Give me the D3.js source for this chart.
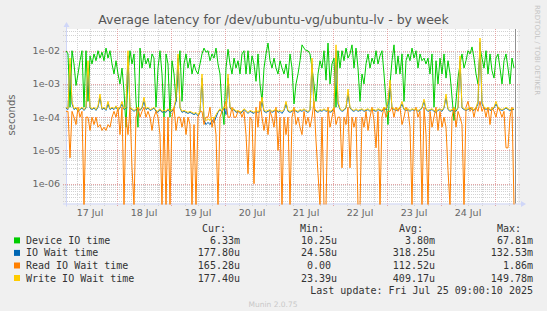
<!DOCTYPE html>
<html lang="en">
<head>
<meta charset="UTF-8" />
<title>Average latency for /dev/ubuntu-vg/ubuntu-lv - by week</title>
<script src="https://d3js.org/d3.v7.min.js"></script>
<style>
  body { margin: 0; background: #f0f0f0; }
  svg { display: block; }
  .tick-label { font-family: "DejaVu Sans", sans-serif; font-size: 9.5px; fill: #666; }
  .legend text { font-family: "DejaVu Sans Mono", monospace; font-size: 10px; fill: #333; }
</style>
</head>
<body>
<svg id="chart" width="547" height="311"></svg>
<script>
// values, one sample every 3200 s starting 17 Jul 01:20 UTC
const deviceIO = [
  1e-2, 8e-3, 2e-4, 1e-2, 4e-3, 9e-4, 2e-3, 5e-3, 1e-2, 2e-4, 1e-2, 3e-4, 7e-3, 4e-3, 8e-3,
  5e-3, 1e-2, 6e-3, 9e-3, 5e-3, 1.2e-2, 6e-3, 1e-2, 4e-3, 2e-3, 5e-3, 2e-3, 1e-3, 3e-3, 6e-4,
  5e-5, 2e-3, 1e-2, 4e-3, 8e-3, 3e-4, 5e-5, 1.2e-2, 3e-3, 8e-3, 4e-3, 6e-3, 3e-3, 8e-3, 6e-3,
  2e-4, 3e-3, 1e-2, 2e-3, 1e-4, 8e-3, 4e-3, 1e-4, 5e-3, 2e-3, 3e-4, 2e-3, 1e-2, 3e-4, 4e-3,
  8e-3, 3e-3, 6e-3, 2e-3, 4e-3, 2.5e-3, 2e-3, 4e-3, 8e-3, 1.2e-2, 9e-3, 1e-2, 5e-3, 8e-3, 6e-3,
  1.2e-2, 4e-3, 2e-3, 2e-4, 6e-5, 3e-3, 1.1e-2, 4e-3, 2e-3, 6e-3, 3e-3, 5e-3, 2e-3, 8e-3, 1e-2,
  2e-3, 1e-2, 2e-3, 7e-3, 4e-3, 1.2e-3, 8e-3, 1e-3, 3e-4, 3e-3, 8e-3, 1.7e-2, 5e-3, 3e-3, 6e-3,
  3e-3, 2e-3, 5e-3, 3e-3, 2e-3, 4e-3, 1.5e-3, 8e-3, 3e-3, 2.5e-4, 1e-3, 2e-3, 5e-3, 1.5e-2, 1.2e-2,
  1e-2, 1e-2, 8e-3, 3e-3, 1e-3, 3e-4, 2e-3, 5e-3, 3e-3, 1e-2, 1.3e-3, 1.7e-2, 1e-3, 4e-3, 6e-3,
  2e-4, 1e-2, 3e-3, 1e-2, 5e-3, 1.2e-2, 6e-3, 8e-3, 1.5e-2, 3e-3, 1.2e-2, 3e-3, 3e-4, 2e-3, 1e-3,
  4e-3, 8e-3, 3e-3, 6e-3, 4e-3, 1e-2, 4e-3, 7e-3, 1e-2, 2e-3, 3e-4, 6e-5, 1e-3, 5e-3, 1.5e-2,
  2e-3, 7e-3, 2e-3, 8e-3, 3e-4, 5e-3, 8e-3, 5e-3, 1.2e-2, 6e-3, 1e-2, 3e-3, 8e-3, 5e-3, 6e-3,
  4e-3, 6e-3, 2e-3, 8e-3, 2e-4, 5e-3, 1e-3, 6e-3, 2e-3, 8e-3, 1.5e-3, 5e-3, 2e-3, 4e-4, 8e-5,
  3e-4, 1.5e-3, 4e-3, 8e-3, 3e-3, 5e-3, 1e-2, 8e-3, 1.3e-2, 6e-3, 2e-3, 1e-3, 1.2e-2, 6e-3, 3e-3,
  1e-2, 2e-3, 8e-3, 2.5e-3, 1.5e-3, 6e-3, 8e-3, 3e-3, 1e-3, 5e-3, 8e-3, 3e-3, 1e-3, 6e-3, 3e-3
];
const ioWait = [
  1.9e-4, 1.7e-4, 4e-3, 2.5e-4, 1.7e-4, 1.9e-4, 1.5e-4, 1.7e-4, 1.9e-4, 1.6e-4, 1.9e-4, 3e-3, 1.9e-4, 1.7e-4, 1.9e-4,
  1.6e-4, 2e-4, 4e-4, 1.7e-4, 1.9e-4, 1.6e-4, 2.5e-4, 1.7e-4, 1.9e-4, 1.7e-4, 2e-4, 1.6e-4, 1.9e-4, 2.5e-4, 1.7e-4,
  1.9e-4, 7e-3, 1.9e-4, 1.7e-4, 1.5e-4, 1.7e-4, 1.9e-4, 1.6e-4, 1.9e-4, 3e-4, 1.7e-4, 1.9e-4, 1.6e-4, 1.7e-4, 1.9e-4,
  1.5e-4, 1.4e-4, 1.7e-4, 1.4e-4, 1.5e-4, 1.4e-4, 1.7e-4, 1.4e-4, 1.5e-4, 1.9e-4, 3e-4, 6e-3, 1.9e-4, 1.4e-4, 1.5e-4,
  1.4e-4, 1.3e-4, 1.4e-4, 1.3e-4, 1.2e-4, 1.3e-4, 1.1e-4, 1.4e-4, 1.5e-3, 8e-5, 6e-5, 7e-5, 6e-5, 8e-5, 7e-5,
  1e-4, 1.4e-4, 1.7e-4, 1.4e-4, 1.9e-4, 1.2e-4, 1.5e-3, 1.9e-4, 1.6e-4, 1.7e-4, 1.4e-4, 1.5e-4, 1.3e-4, 1.4e-4, 1.7e-4,
  1.5e-4, 1.3e-4, 1.5e-4, 1.4e-4, 1.3e-4, 1.5e-4, 1.4e-4, 1.5e-4, 3e-4, 1.5e-4, 1.4e-4, 1.5e-4, 1.6e-4, 1.4e-4, 1.5e-4,
  1.7e-4, 1.4e-4, 1.5e-4, 1.3e-4, 1.6e-4, 2.5e-4, 1.5e-4, 1.4e-4, 1.5e-4, 1.7e-4, 1.5e-4, 1.4e-4, 1.6e-4, 1.5e-4, 1.7e-4,
  1.5e-4, 1.4e-4, 1.6e-4, 4e-3, 1.9e-4, 1.5e-4, 1.4e-4, 1.6e-4, 1.5e-4, 1.7e-4, 1.5e-4, 1.6e-4, 1.4e-4, 1.5e-4, 1.9e-4,
  1e-2, 2.5e-4, 1.7e-4, 1.5e-4, 1.6e-4, 1.9e-4, 5e-4, 1.9e-4, 1.6e-4, 1.5e-4, 1.7e-4, 1.5e-4, 1.6e-4, 1.7e-4, 1.5e-4,
  1.6e-4, 1.7e-4, 1.5e-4, 1.7e-4, 1.6e-4, 1.5e-4, 1.7e-4, 1.6e-4, 1.5e-4, 1.9e-4, 1.7e-4, 2.5e-4, 1e-3, 1.9e-4, 1.7e-4,
  1.6e-4, 1.7e-4, 1.9e-4, 2.5e-4, 1.7e-4, 1.6e-4, 1.7e-4, 1.5e-4, 1.7e-4, 1.6e-4, 1.7e-4, 1.5e-4, 1.6e-4, 1.9e-4, 3e-4,
  1.7e-4, 1.5e-4, 1.6e-4, 1.7e-4, 1.5e-4, 1.4e-4, 1.6e-4, 1.7e-4, 1.5e-4, 1.9e-4, 4e-4, 1.7e-4, 1.5e-4, 1.6e-4, 1.7e-4,
  1.5e-4, 1.9e-4, 5e-3, 1.9e-4, 1.7e-4, 1.6e-4, 1.7e-4, 1.9e-4, 1.7e-4, 1.6e-4, 1.9e-4, 2.5e-4, 1.8e-2, 2.5e-4, 1.9e-4,
  1.7e-4, 1.9e-4, 1.6e-4, 1.7e-4, 1.9e-4, 2.5e-4, 1.9e-4, 1.7e-4, 1.6e-4, 1.7e-4, 1.9e-4, 1.7e-4, 1.6e-4, 1.7e-4, 1.7e-4
];
const readWait = [
  1.5e-4, 1.5e-4, 6e-6, 1.5e-4, 1e-4, 6e-5, 2e-4, 1e-4, 1.5e-4, 0, 1e-4, 1e-4, 4e-5, 1e-4, 6e-5,
  1e-4, 5e-5, 6e-5, 4e-5, 5e-5, 4e-5, 6e-5, 5e-5, 1e-4, 1.5e-4, 1e-4, 2e-4, 3e-5, 2e-4, 0,
  1e-4, 3e-5, 2e-4, 3e-6, 0, 1e-4, 2e-4, 1e-4, 1.5e-4, 2e-4, 1e-4, 1.5e-4, 1e-4, 4e-5, 1e-4,
  1.5e-4, 1e-4, 3e-5, 0, 1e-4, 0, 1e-4, 0, 1e-4, 2e-4, 4e-5, 1e-4, 1e-4, 5e-5, 1e-4,
  3e-5, 1e-4, 6e-5, 0, 6e-5, 0, 1e-4, 1.5e-4, 1.5e-4, 6e-5, 1e-4, 1e-4, 2e-4, 5e-5, 1e-4,
  3e-5, 0, 1e-4, 1.5e-4, 2e-4, 3e-4, 1e-4, 1e-4, 2e-4, 1e-4, 1e-4, 1.5e-4, 1.5e-4, 1e-4, 1.5e-4,
  3e-5, 2e-6, 1e-4, 8e-5, 1e-6, 2e-4, 5e-5, 3e-4, 1e-4, 4e-5, 1e-4, 3e-5, 1.5e-4, 1e-4, 5e-5,
  2e-4, 1e-5, 1e-4, 0, 1e-4, 3e-5, 1e-4, 0, 1e-4, 2e-4, 6e-5, 1e-4, 5e-5, 3e-5, 1.5e-4,
  6e-5, 1e-4, 5e-5, 1e-4, 3e-4, 2e-5, 2e-6, 0, 1e-4, 0, 0, 2e-4, 5e-5, 1e-4, 2e-4,
  6e-5, 1e-4, 1e-4, 3e-6, 1e-4, 6e-5, 2e-4, 3e-6, 1e-4, 5e-5, 1e-4, 0, 0, 1e-4, 5e-5,
  1.5e-4, 4e-5, 1e-4, 2e-4, 8e-5, 1.2e-5, 1.5e-4, 0, 1e-4, 2e-4, 1e-4, 1.5e-4, 1.5e-4, 2e-4, 1e-4,
  2e-4, 1.5e-4, 2e-4, 6e-5, 1e-4, 2e-4, 1.5e-4, 5e-5, 0, 1.5e-4, 2e-4, 1e-4, 1.5e-4, 0, 2e-4,
  3e-5, 0, 1.5e-4, 5e-5, 1e-4, 2e-4, 4e-5, 1.5e-4, 5e-5, 1e-4, 5e-5, 2.5e-6, 0, 1e-4, 2e-4,
  5e-5, 1.5e-4, 1e-4, 6e-5, 0, 2e-4, 3e-4, 1.5e-4, 2e-4, 1e-4, 2e-4, 1.5e-4, 3e-4, 1.5e-4, 2e-4,
  1e-4, 2e-4, 6e-5, 2e-4, 1.5e-4, 1e-4, 2e-4, 1.5e-4, 1e-4, 1.5e-4, 1.2e-5, 1.2e-5, 1e-4, 2e-4, 0
];
const writeWait = [
  2e-4, 1.8e-4, 6e-3, 3e-4, 1.8e-4, 2e-4, 1.6e-4, 1.8e-4, 2e-4, 1.7e-4, 2e-4, 5e-3, 2e-4, 1.8e-4, 2e-4,
  1.7e-4, 2.2e-4, 5e-4, 1.8e-4, 2e-4, 1.7e-4, 3e-4, 1.8e-4, 2e-4, 1.8e-4, 2.2e-4, 1.7e-4, 2e-4, 3e-4, 1.8e-4,
  2e-4, 1e-2, 2e-4, 1.8e-4, 1.6e-4, 1.8e-4, 2e-4, 1.7e-4, 2e-4, 4e-4, 1.8e-4, 2e-4, 1.7e-4, 1.8e-4, 2e-4,
  1.6e-4, 1.5e-4, 1.8e-4, 1.5e-4, 1.6e-4, 1.5e-4, 1.8e-4, 1.5e-4, 1.6e-4, 2e-4, 4e-4, 8e-3, 2e-4, 1.5e-4, 1.6e-4,
  1.5e-4, 1.4e-4, 1.5e-4, 1.4e-4, 1.3e-4, 1.4e-4, 1.2e-4, 1.5e-4, 2e-3, 1e-4, 8e-5, 9e-5, 8e-5, 1e-4, 9e-5,
  1.2e-4, 1.5e-4, 1.8e-4, 1.5e-4, 2e-4, 1.8e-4, 2e-3, 2e-4, 1.7e-4, 1.8e-4, 1.5e-4, 1.6e-4, 1.4e-4, 1.5e-4, 1.8e-4,
  1.6e-4, 1.4e-4, 1.6e-4, 1.5e-4, 1.4e-4, 1.6e-4, 1.5e-4, 1.6e-4, 4e-4, 1.6e-4, 1.5e-4, 1.6e-4, 1.7e-4, 1.5e-4, 1.6e-4,
  1.8e-4, 1.5e-4, 1.6e-4, 1.5e-4, 1.7e-4, 3e-4, 1.6e-4, 1.5e-4, 1.6e-4, 1.8e-4, 1.6e-4, 1.5e-4, 1.7e-4, 1.6e-4, 1.8e-4,
  1.6e-4, 1.5e-4, 1.7e-4, 6e-3, 2e-4, 1.6e-4, 1.5e-4, 1.7e-4, 1.6e-4, 1.8e-4, 1.6e-4, 1.7e-4, 1.5e-4, 1.6e-4, 2e-4,
  1.5e-2, 3e-4, 1.8e-4, 1.6e-4, 1.7e-4, 2e-4, 7e-4, 2e-4, 1.7e-4, 1.6e-4, 1.8e-4, 1.6e-4, 1.7e-4, 1.8e-4, 1.6e-4,
  1.7e-4, 1.8e-4, 1.6e-4, 1.8e-4, 1.7e-4, 1.6e-4, 1.8e-4, 1.7e-4, 1.6e-4, 2e-4, 1.8e-4, 3e-4, 1.3e-3, 2e-4, 1.8e-4,
  1.7e-4, 1.8e-4, 2e-4, 3e-4, 1.8e-4, 1.7e-4, 1.8e-4, 1.6e-4, 1.8e-4, 1.7e-4, 1.8e-4, 1.6e-4, 1.7e-4, 2e-4, 3.5e-4,
  1.8e-4, 1.6e-4, 1.7e-4, 1.8e-4, 1.6e-4, 1.5e-4, 1.7e-4, 1.8e-4, 1.6e-4, 2e-4, 5e-4, 1.8e-4, 1.6e-4, 1.7e-4, 1.8e-4,
  1.6e-4, 2e-4, 7e-3, 2e-4, 1.8e-4, 1.7e-4, 1.8e-4, 2e-4, 1.8e-4, 1.7e-4, 2e-4, 3e-4, 2.4e-2, 3e-4, 2e-4,
  1.8e-4, 2e-4, 1.7e-4, 1.8e-4, 2e-4, 3e-4, 2e-4, 1.8e-4, 1.7e-4, 1.8e-4, 2e-4, 1.8e-4, 1.7e-4, 1.8e-4, 1.8e-4
];

const seriesNames = ["Device IO time", "IO Wait time", "Read IO Wait time", "Write IO Wait time"];
const seriesColors = ["#00cc00", "#0066b3", "#ff8000", "#ffcc00"];
const curValues = ["6.33m", "177.80u", "165.28u", "177.40u"];
const minValues = ["10.25u", "24.58u", "0.00 ", "23.39u"];
const avgValues = ["3.80m", "318.25u", "112.52u", "409.17u"];
const maxValues = ["67.81m", "132.53m", "1.86m", "149.78m"];
const yTickValues = [1e-2, 1e-3, 1e-4, 1e-5, 1e-6];
const yTickLabels = ["1e-02", "1e-03", "1e-04", "1e-05", "1e-06"];
const dayLabels = ["17 Jul", "18 Jul", "19 Jul", "20 Jul", "21 Jul", "22 Jul", "23 Jul", "24 Jul"];

const svg = d3.select("#chart");
const plotLeft = 66, plotRight = 518, plotTop = 29, plotBottom = 203.5;

const startTime = Date.UTC(2025, 6, 17, 1, 20);
const step = 3200 * 1000;
const times = deviceIO.map((d, i) => new Date(startTime + i * step));

const x = d3.scaleUtc()
  .domain([new Date(Date.UTC(2025, 6, 17)), new Date(Date.UTC(2025, 6, 25))])
  .range([63, 495]);
const y = d3.scaleLog()
  .domain([Math.pow(10, -6.595), Math.pow(10, -1.347)])
  .range([plotBottom, plotTop]);

svg.append("rect").attr("width", 547).attr("height", 311).attr("fill", "#f0f0f0");
svg.append("rect").attr("x", plotLeft).attr("y", plotTop)
  .attr("width", plotRight - plotLeft).attr("height", plotBottom - plotTop).attr("fill", "#fff");

// grid
const grid = svg.append("g");
for (let e = -7; e <= -2; e++) {
  for (let m = 1; m <= 9; m++) {
    const v = m * Math.pow(10, e);
    const yy = y(v);
    if (yy < plotTop - 0.5 || yy > plotBottom) continue;
    const py = Math.round(yy) + 0.5;
    grid.append("line")
      .attr("x1", plotLeft - 3).attr("x2", plotRight + 2)
      .attr("y1", py).attr("y2", py)
      .attr("stroke", m === 1 ? "#e3a4a4" : "#d2d2d2")
      .attr("stroke-dasharray", "1,1");
  }
}
const sixHours = d3.utcHour.every(6).range(new Date(Date.UTC(2025, 6, 17, 1)), new Date(Date.UTC(2025, 6, 25, 10)));
sixHours.forEach((t) => {
  const px = Math.round(x(t)) + 0.5;
  if (px < plotLeft || px > plotRight) return;
  const major = t.getUTCHours() === 0;
  grid.append("line")
    .attr("x1", px).attr("x2", px)
    .attr("y1", plotTop).attr("y2", plotBottom + 3)
    .attr("stroke", major ? "#e3a4a4" : "#d2d2d2")
    .attr("stroke-dasharray", "1,1");
});

// axes
const axisColor = "#cfd6f8";
svg.append("line").attr("x1", plotLeft - 3).attr("x2", plotRight + 3)
  .attr("y1", plotBottom + 0.5).attr("y2", plotBottom + 0.5).attr("stroke", axisColor);
svg.append("path").attr("d", `M${plotRight + 3},${plotBottom - 2.5}L${plotRight + 8},${plotBottom + 0.5}L${plotRight + 3},${plotBottom + 3.5}Z`)
  .attr("fill", axisColor);
svg.append("line").attr("x1", plotLeft + 0.5).attr("x2", plotLeft + 0.5)
  .attr("y1", plotBottom + 3).attr("y2", plotTop - 3).attr("stroke", axisColor);
svg.append("path").attr("d", `M${plotLeft - 2.5},${plotTop - 2}L${plotLeft + 0.5},${plotTop - 7}L${plotLeft + 3.5},${plotTop - 2}Z`)
  .attr("fill", axisColor);

svg.selectAll(".ylab").data(yTickValues).enter().append("text")
  .attr("class", "tick-label")
  .attr("x", 60).attr("y", (d) => y(d) + 3.5)
  .attr("text-anchor", "end")
  .text((d, i) => yTickLabels[i]);

svg.selectAll(".xlab").data(dayLabels).enter().append("text")
  .attr("class", "tick-label")
  .attr("x", (d, i) => x(new Date(Date.UTC(2025, 6, 17 + i, 12))))
  .attr("y", 216)
  .attr("text-anchor", "middle")
  .text((d) => d);

svg.append("text")
  .attr("transform", "translate(15,115) rotate(-90)")
  .attr("text-anchor", "middle")
  .style("font-family", "DejaVu Sans, sans-serif").style("font-size", "10px").style("fill", "#666")
  .text("seconds");

svg.append("text")
  .attr("x", 273.5).attr("y", 24)
  .attr("text-anchor", "middle")
  .style("font-family", "DejaVu Sans, sans-serif").style("font-size", "12.5px").style("fill", "#555")
  .text("Average latency for /dev/ubuntu-vg/ubuntu-lv - by week");

svg.append("text")
  .attr("transform", "translate(535,5) rotate(90)")
  .style("font-family", "DejaVu Sans, sans-serif").style("font-size", "7px").style("fill", "#c4c4c4")
  .text("RRDTOOL / TOBI OETIKER");

// lines
svg.append("clipPath").attr("id", "plotClip").append("rect")
  .attr("x", plotLeft).attr("y", plotTop).attr("width", plotRight - plotLeft).attr("height", plotBottom - plotTop + 1);

const line = d3.line()
  .x((d, i) => x(times[i]))
  .y((d) => (d > 0 ? y(d) : plotBottom + 2));

const plot = svg.append("g").attr("clip-path", "url(#plotClip)");
[deviceIO, ioWait, readWait, writeWait].forEach((s, k) => {
  plot.append("path")
    .datum(s)
    .attr("fill", "none")
    .attr("stroke", seriesColors[k])
    .attr("stroke-width", 1)
    .attr("d", line);
});

svg.append("line").attr("x1", 515.5).attr("x2", 515.5)
  .attr("y1", plotTop).attr("y2", plotBottom).attr("stroke", "#909090");

// legend
const legend = svg.append("g").attr("class", "legend");
const headers = [["Cur:", 202], ["Min:", 300], ["Avg:", 399], ["Max:", 497]];
headers.forEach(([t, hx]) => legend.append("text").attr("x", hx).attr("y", 232).text(t));

const rowY = [240.4, 252.9, 265.5, 278];
seriesNames.forEach((name, i) => {
  legend.append("rect")
    .attr("x", 14).attr("y", rowY[i] - 3).attr("width", 6).attr("height", 6)
    .attr("fill", seriesColors[i]);
  legend.append("text").attr("x", 26).attr("y", rowY[i] + 3.5).text(name);
  [[curValues, 240], [minValues, 337], [avgValues, 435], [maxValues, 533]].forEach(([vals, rx]) => {
    legend.append("text").attr("x", rx).attr("y", rowY[i] + 3.5)
      .attr("text-anchor", "end").style("white-space", "pre")
      .text(vals[i]);
  });
});
legend.append("text").attr("x", 533).attr("y", 293.7).attr("text-anchor", "end")
  .text("Last update: Fri Jul 25 09:00:10 2025");

svg.append("text")
  .attr("x", 273).attr("y", 307)
  .attr("text-anchor", "middle")
  .style("font-family", "DejaVu Sans, sans-serif").style("font-size", "7.5px").style("fill", "#c8c8c8")
  .text("Munin 2.0.75");
</script>
</body>
</html>
